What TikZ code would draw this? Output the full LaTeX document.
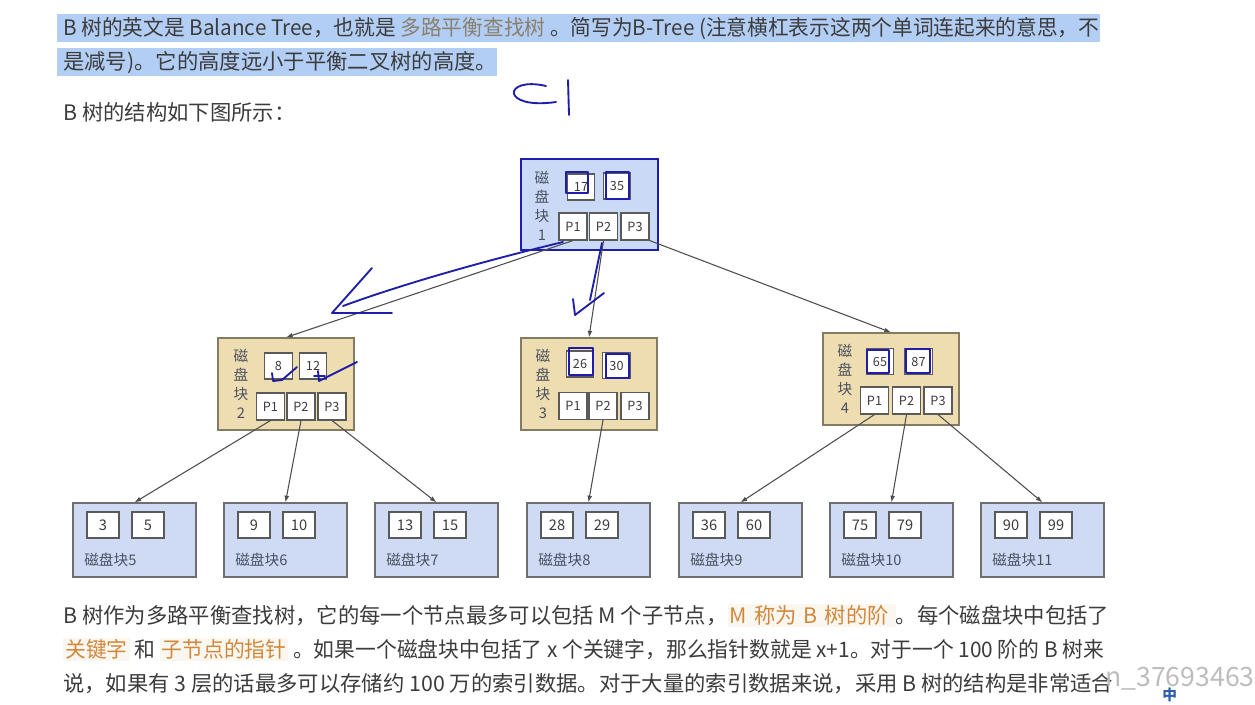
\documentclass[tikz,border=0pt]{standalone}
\usepackage{fontspec}
\setmainfont{Noto Sans CJK SC}
\usetikzlibrary{arrows.meta}
\definecolor{hlblue}{HTML}{B3CEF4}
\definecolor{txt}{HTML}{3C3C3C}
\definecolor{codegray}{HTML}{8A8070}
\definecolor{orng}{HTML}{D2883A}
\definecolor{orngbg}{HTML}{FAF6F0}
\definecolor{hand}{HTML}{1E1EA8}
\definecolor{rootfill}{HTML}{CAD9F6}
\definecolor{leaffill}{HTML}{CFDBF4}
\definecolor{tanfill}{HTML}{EFDDB2}
\definecolor{tanborder}{HTML}{857A62}
\definecolor{leafborder}{HTML}{6E6E6E}
\definecolor{boxgray}{HTML}{5A5A5A}
\definecolor{arrgray}{HTML}{4E4E4E}
\definecolor{labgray}{HTML}{4A5160}
\definecolor{wm}{HTML}{BDBDBD}
\definecolor{imeblue}{HTML}{2F5FA8}
\newcommand{\orng}[1]{{\setlength{\fboxsep}{1.5pt}\colorbox{orngbg}{\color{orng}#1}}}
\tikzset{
  keyb/.style={draw=boxgray, fill=white, line width=0.8pt, minimum width=20.5pt, minimum height=19.5pt, inner sep=0pt, font=\fontsize{9.5}{11}\selectfont, text=txt},
  pb/.style={keyb, minimum width=21pt, minimum height=20.25pt},
  lkey/.style={keyb, minimum width=24pt, minimum height=19.5pt, font=\fontsize{11}{13}\selectfont},
  rootbox/.style={draw=hand, line width=1.6pt, fill=rootfill, minimum width=102.75pt, minimum height=68.25pt, inner sep=0pt},
  midbox/.style={draw=tanborder, line width=0.9pt, fill=tanfill, minimum width=102pt, minimum height=69pt, inner sep=0pt},
  leafbox/.style={draw=leafborder, line width=0.9pt, fill=leaffill, minimum width=92.25pt, minimum height=55.5pt, inner sep=0pt},
  vlab/.style={align=center, font=\fontsize{11}{14.2}\selectfont, text=labgray, inner sep=0pt},
  llab/.style={anchor=west, font=\fontsize{11}{13}\selectfont, text=labgray, inner sep=0pt},
  arr/.style={draw=arrgray, line width=0.8pt, -{Latex[length=5pt,width=3.6pt]}},
  handln/.style={draw=hand, line width=1.4pt, line cap=round, line join=round},
  para/.style={anchor=base west, inner sep=0pt, font=\fontsize{16}{19}\selectfont, text=txt},
}
\begin{document}
\begin{tikzpicture}[x=0.75pt,y=-0.75pt]
\useasboundingbox (0,0) rectangle (1255,704);
\fill[white] (0,0) rectangle (1255,704);

% ---------- top paragraph with highlight ----------
\fill[hlblue] (57,14) rectangle (1100,42);
\fill[hlblue] (57,48) rectangle (497,76);
\node[para] (t1) at (63,35.6) {\scalebox{0.97}[1]{B 树的英文是 Balance Tree，也就是 {\color{codegray}多路平衡查找树} 。简写为B-Tree (注意横杠表示这两个单词连起来的意思，不}};
\node[para] (t2) at (63,69.6) {是减号)。它的高度远小于平衡二叉树的高度。};
\node[para] (t3) at (63,120.6) {B 树的结构如下图所示：};

% handwriting C |
\draw[handln] (546,86) .. controls (503,76) and (500,110) .. (556,102);
\draw[handln] (568,80) -- (569,115);

% ---------- root ----------
\node[rootbox] (root) at (589.5,204.5) {};
\node[vlab] (rootlab) at (542,205.5) {磁\\盘\\块\\1};
\node[keyb] (k17) at (581,187) {17};
\node[keyb] (k35) at (617,186) {35};
\node[pb] (r1) at (573,226.5) {P1};
\node[pb] (r2) at (603.5,226.5) {P2};
\node[pb] (r3) at (635,226.5) {P3};
\draw[handln] (566,172) rectangle (588,193);
\draw[handln] (606,172) rectangle (629,199);

% ---------- level 2 ----------
\node[midbox] (n2) at (286,384) {};
\node[vlab] (n2lab) at (241,384) {磁\\盘\\块\\2};
\node[keyb] (k8) at (278.5,366) {8};
\node[keyb] (k12) at (313,366) {12};
\node[pb] (a1) at (270.5,406.5) {P1};
\node[pb] (a2) at (301,406.5) {P2};
\node[pb] (a3) at (332,406.5) {P3};

\node[midbox] (n3) at (589,384) {};
\node[vlab] (n3lab) at (543,384) {磁\\盘\\块\\3};
\node[keyb] (k26) at (580,364) {26};
\node[keyb] (k30) at (616.5,365.5) {30};
\node[pb] (b1) at (573,406) {P1};
\node[pb] (b2) at (603,406) {P2};
\node[pb] (b3) at (635,406) {P3};
\draw[handln] (569,348) rectangle (593,375);
\draw[handln] (606,354) rectangle (629,378);

\node[midbox] (n4) at (891,379) {};
\node[vlab] (n4lab) at (845,379) {磁\\盘\\块\\4};
\node[keyb] (k65) at (880,361.5) {65};
\node[keyb] (k87) at (918.5,361.5) {87};
\node[pb] (c1) at (874.5,400.5) {P1};
\node[pb] (c2) at (906.5,400.5) {P2};
\node[pb] (c3) at (938,400.5) {P3};
\draw[handln] (867,350) rectangle (889,373);
\draw[handln] (906,349) rectangle (930,373);

% ---------- leaves ----------
\foreach \i/\L/\a/\b in {5/73/3/5, 6/224/9/10, 7/375/13/15, 8/527/28/29, 9/679/36/60, 10/830/75/79, 11/981/90/99}{
  \node[leafbox] (leaf\i) at (\L+61.5,540) {};
  \node[lkey] (leaf\i a) at (\L+30,525) {\a};
  \node[lkey] (leaf\i b) at (\L+75,525) {\b};
  \node[llab] (leaf\i l) at (\L+11,560) {磁盘块\i};
}

% ---------- connectors ----------
\draw[arr] (r1.south) -- (n2.north);
\draw[arr] (r2.south) -- (n3.north);
\draw[arr] (r3.south east) -- (n4.north);
\draw[arr] (a1.south) -- (leaf5.north);
\draw[arr] (a2.south) -- (leaf6.north);
\draw[arr] (a3.south) -- (leaf7.north);
\draw[arr] (b2.south) -- (leaf8.north);
\draw[arr] (c1.south) -- (leaf9.north);
\draw[arr] (c2.south) -- (leaf10.north);
\draw[arr] (c3.south) -- (leaf11.north);

% ---------- handwriting over diagram ----------
\draw[handln] (563,242) .. controls (480,262) and (400,285) .. (343,306);
\draw[handln] (372,268) -- (332,313) -- (392,313);
\draw[handln] (602,243) -- (590,300);
\draw[handln] (573,299) -- (575,315) -- (604,293);
\draw[handln] (272,373) -- (273,381) -- (282,380) -- (297,367);
\draw[handln] (318,371) -- (319,381) -- (357,362);
\draw[handln] (314,376) -- (325,376);

% ---------- bottom paragraph ----------
\node[para] (b1t) at (63,623.6) {B 树作为多路平衡查找树，它的每一个节点最多可以包括 M 个子节点，\orng{ M\,\,称为\,\,B\,\,树的阶 }。每个磁盘块中包括了};
\node[para] (b2t) at (63,657.6) {\scalebox{0.975}[1]{\orng{关键字} 和 \orng{子节点的指针} 。如果一个磁盘块中包括了 x 个关键字，那么指针数就是 x+1。对于一个 100 阶的 B 树来}};
\node[para] (b3t) at (63,691.6) {说，如果有 3 层的话最多可以存储约 100 万的索引数据。对于大量的索引数据来说，采用 B 树的结构是非常适合};
\node[para, text=wm, anchor=base east, font=\fontsize{20}{22}\selectfont] (wmk) at (1255,686) {n\_37693463};
\node[anchor=north west, inner sep=0pt, text=imeblue, font=\fontsize{11}{11}\selectfont\bfseries] (ime) at (1162,688) {中};
\end{tikzpicture}
\end{document}
